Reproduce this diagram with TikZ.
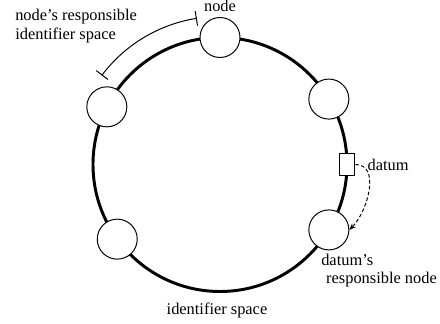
\documentclass[tikz,border=0pt]{standalone}
\usepackage{fontspec}
\setmainfont{Liberation Serif}
\usetikzlibrary{positioning,arrows.meta}
\tikzset{
  peer/.style={circle, draw=black, fill=white, line width=0.6pt, minimum size=24.4pt, inner sep=0pt},
  datbox/.style={rectangle, draw=black, fill=white, line width=0.6pt, minimum width=9.6pt, minimum height=13pt, inner sep=0pt},
  lbl/.style={font=\fontsize{10}{11.5}\selectfont, text=black},
}
\begin{document}
\begin{tikzpicture}[x=0.61pt, y=0.61pt]
\useasboundingbox (-220,-159.5) rectangle (220,164.5);
% identifier ring
\draw[line width=1.8pt] (0,0) circle[radius=127];
% nodes on the ring
\node[peer] (top) at (90:127) {};
\node[peer] (upleft) at (153:127) {};
\node[peer] (lowleft) at (216:127) {};
\node[peer] (upright) at (31:127) {};
\node[peer] (resp) at (-31:127) {};
\node[datbox] (dat) at (0:127) {};
% responsible span of the top node
\coordinate (spanA) at (99:148);
\draw[{Bar[width=9pt]}-{Bar[width=9pt]}, line width=0.6pt] (spanA) arc[start angle=99, end angle=143, radius=148];
\draw[-{Stealth[length=4pt, width=3.2pt]}, dash pattern=on 2.2pt off 1.4pt, line width=0.6pt] (dat.east) to[out=0, in=45] (resp.east);
% labels
\node[lbl, above=0pt of top] {node};
\node[lbl, right=4pt of dat] {datum};
\node[lbl, anchor=west, align=left] at (-210.5,138.5) {node's responsible\\identifier space};
\node[lbl, anchor=west, align=left] at (95.5,-106) {datum's\\\hspace*{0.3em}responsible node};
\node[lbl] at (-3,-145.5) {identifier space};
\end{tikzpicture}
\end{document}
